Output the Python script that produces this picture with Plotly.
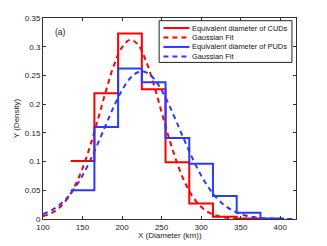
import plotly.graph_objects as go

# Histogram stairs (bin edges and densities)
cud_edges = [135, 165, 195, 225, 255, 285, 315, 345, 375]
cud_density = [0.101, 0.219, 0.323, 0.226, 0.099, 0.027, 0.004, 0.001, 0.001]
pud_edges = [135, 165, 195, 225, 255, 285, 315, 345, 375, 405]
pud_density = [0.050, 0.160, 0.262, 0.238, 0.141, 0.096, 0.040, 0.011, 0.001, 0.001]

# Gaussian fit curves
fit_x = [100, 110, 120, 130, 140, 150, 160, 170, 180, 190, 200, 210, 220, 230, 240,
         250, 260, 270, 280, 290, 300, 310, 320, 330, 340, 350, 360, 370, 380, 390,
         400, 410, 420]
cud_fit = [0.0048, 0.0098, 0.0188, 0.0337, 0.0566, 0.0883, 0.129, 0.176, 0.225, 0.269,
           0.299, 0.312, 0.304, 0.276, 0.235, 0.186, 0.138, 0.0959, 0.0621, 0.0376,
           0.0213, 0.0112, 0.0056, 0.0026, 0.0011, 0.0004, 0.0002, 0.0001, 0.0, 0.0,
           0.0, 0.0, 0.0]
pud_fit = [0.0087, 0.0146, 0.0235, 0.0362, 0.0536, 0.0758, 0.1027, 0.1333, 0.1656,
           0.197, 0.2244, 0.2447, 0.2556, 0.2556, 0.2447, 0.2244, 0.197, 0.1656, 0.1333,
           0.1027, 0.0758, 0.0536, 0.0362, 0.0235, 0.0146, 0.0087, 0.0049, 0.0027,
           0.0014, 0.0007, 0.0003, 0.0001, 0.0001]

series_names = ["Equivalent diameter of CUDs", "Gaussian Fit",
                "Equivalent diameter of PUDs", "Gaussian Fit"]

x_ticks = [100, 150, 200, 250, 300, 350, 400]
y_ticks = [0, 0.05, 0.1, 0.15, 0.2, 0.25, 0.3, 0.35]
y_tick_labels = ["0", "0.05", "0.1", "0.15", "0.2", "0.25", "0.3", "0.35"]

RED = "rgb(255,0,0)"
BLUE = "rgb(40,60,255)"
DASH = "5px,4px"
styles = [(RED, "solid"), (RED, DASH), (BLUE, "solid"), (BLUE, DASH)]

fig = go.Figure()
fig.add_trace(go.Scatter(x=cud_edges, y=cud_density, mode="lines", line_shape="hv",
                         line=dict(color=RED, width=2), name=series_names[0]))
fig.add_trace(go.Scatter(x=fit_x, y=cud_fit, mode="lines", line_shape="spline",
                         line=dict(color=RED, width=2, dash=DASH), name=series_names[1]))
fig.add_trace(go.Scatter(x=pud_edges, y=pud_density, mode="lines", line_shape="hv",
                         line=dict(color=BLUE, width=2), name=series_names[2]))
fig.add_trace(go.Scatter(x=fit_x, y=pud_fit, mode="lines", line_shape="spline",
                         line=dict(color=BLUE, width=2, dash=DASH), name=series_names[3]))

fig.add_annotation(x=113, y=0.326, text="(a)", showarrow=False, xanchor="left",
                   font=dict(size=8.5, color="#222"))

# Compact legend box (MATLAB style)
fig.add_shape(type="rect", xref="paper", yref="paper", x0=0.459, x1=0.984,
              y0=0.779, y1=0.9865, line=dict(color="#222", width=1),
              fillcolor="white", layer="above")
row_y = [0.950, 0.903, 0.856, 0.809]
for name, (col, dash), yy in zip(series_names, styles, row_y):
    fig.add_shape(type="line", xref="paper", yref="paper", x0=0.476, x1=0.579,
                  y0=yy, y1=yy, line=dict(color=col, width=2, dash=dash), layer="above")
    fig.add_annotation(xref="paper", yref="paper", x=0.582, y=yy, text=name,
                       showarrow=False, xanchor="left", yanchor="middle",
                       font=dict(size=7.4, color="#111"))

# x-axis title placed like the reference
fig.add_annotation(xref="paper", yref="paper", x=0.5, y=-0.08, text="X (Diameter (km))",
                   showarrow=False, xanchor="center", yanchor="middle",
                   font=dict(size=8, color="#222"))

axis_common = dict(showline=True, linecolor="#333", linewidth=1, mirror="ticks",
                   ticks="inside", ticklen=3, tickcolor="#333", showgrid=False,
                   zeroline=False, tickfont=dict(size=8, color="#222"))

fig.update_xaxes(range=[100, 420], tickvals=x_ticks, **axis_common)
fig.update_yaxes(range=[0, 0.35], tickvals=y_ticks, ticktext=y_tick_labels,
                 title=dict(text="Y (Density)", font=dict(size=8, color="#222"), standoff=4),
                 **axis_common)

fig.update_layout(
    width=327, height=246,
    margin=dict(l=43, r=31, t=18, b=27),
    paper_bgcolor="white", plot_bgcolor="white",
    font=dict(family="Liberation Sans, Arial, sans-serif", color="#222"),
    showlegend=False,
)

fig.write_html("out.html", config={"displayModeBar": False},
               post_script="document.body.style.margin='0px';document.body.style.padding='0px';")
